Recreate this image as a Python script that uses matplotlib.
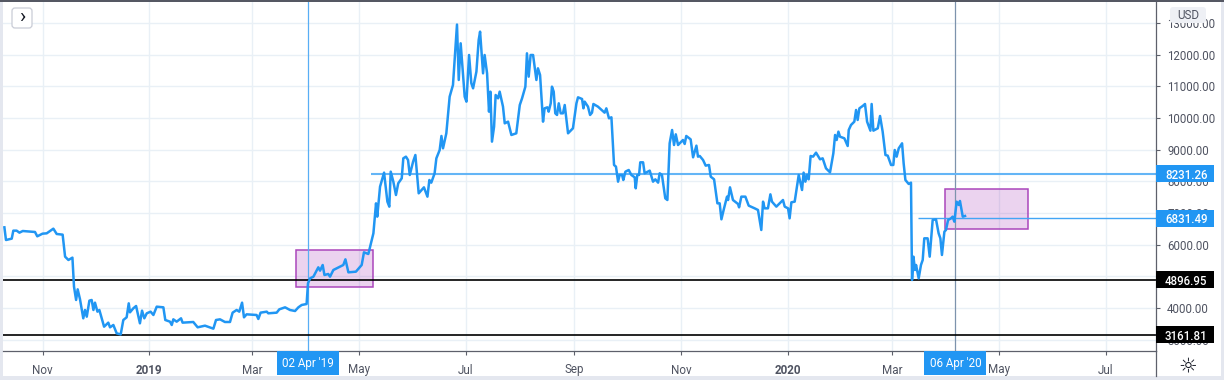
import datetime as dt
import numpy as np
import matplotlib
matplotlib.use('Agg')
import matplotlib.pyplot as plt
import matplotlib.dates as mdates
from matplotlib.patches import Rectangle, FancyBboxPatch
from matplotlib.transforms import blended_transform_factory, IdentityTransform

plt.rcParams['font.family'] = ['Roboto', 'DejaVu Sans']

START = dt.date(2018, 11, 1)

# days since START
days = [-21.8, -20.9, -17.6, -16.7, -14.8, -13.2, -11.3, -4.3, -3, 0, 2.4, 6.2, 8.1, 11.5, 12.9, 14.8, 17.1, 18, 19.2, 20.1,
        21.4, 23.3, 24.3, 25.3, 26.8, 28.1, 29.1, 30, 31.4, 32.5, 35.2, 37.6, 38.6, 40.5, 42.4, 44.7, 46.2, 48.1, 49.3, 50,
        51.9, 53.5, 55.7, 56.9, 58.2, 59.6, 61.8, 63.4, 65.3, 69.1, 70.2, 72.9, 73.9, 74.8, 76.7, 79.2, 80.1, 86.2, 88.7, 92.9,
        97.7, 99.2, 101.5, 104.3, 107.2, 108.7, 111, 112.5, 114.1, 115.2, 116.7, 122.4, 123.4, 124.7, 128.2, 129.1, 133.9, 135.4, 138.7, 141.5,
        144.4, 146.3, 148.2, 151, 151.8, 153, 154.9, 157.7, 158.7, 160.2, 161.2, 163.4, 164.4, 166.3, 172, 173.2, 174.9, 179.2, 182.5, 183.8,
        186.3, 189.2, 190.7, 191.4, 193, 195.3, 197.2, 198.3, 199.1, 200.6, 202.1, 203.4, 205.4, 206.3, 207.8,
        209, 210, 211.9, 213.2, 215.1, 218.1, 220.1, 221.2, 222.3, 224.2, 225.2, 227.1, 228.1, 229, 230.9, 232.8, 234.7, 237, 238, 239.1,
        241.4, 242.4, 243.9, 245.2, 246.2, 248.1, 249.4, 250.2, 251.9, 252.8, 254.2, 255.3, 256.1, 257, 258.2, 259.1, 260.5, 261.4, 263.3, 264.3,
        266.2, 268.1, 270.9, 272.9, 274.2, 276.1, 277, 278, 279.1, 280.5, 282.4, 283.3, 284.5, 286.2, 287.1, 288.7, 289.4, 290.6, 291.3, 292.3,
        293.2, 294.2, 295.2, 296.3, 297.6, 298.6, 300.5, 303.3, 305.3, 306.2, 308.5, 309.3, 310, 311.9, 313.1, 314.2, 315, 317.6, 321.4, 322.4,
        323.9, 325.3, 326.8, 327.9, 329.1, 330, 331.4, 332.1, 333.3, 335.2, 336.7, 338.6, 339.2, 340.1, 341.1, 341.8, 343.4, 344.3, 347.2, 349.1,
        350.4, 352, 352.9, 354.2, 356.1, 357.3, 358.6, 360, 361.1, 362.1, 363.4, 366.2, 367.2, 368.1, 370.6, 372, 373.9, 374.8, 375.8, 377.7,
        379.2, 381.1, 382.1, 384, 385.9, 387.2, 388.2, 389.7, 391.4, 392, 393.1, 394.8, 397.7, 398.3, 399.6, 401.9, 403.8, 407.2, 409.1, 411,
        412, 412.9, 414.8, 416.2, 417.1, 419.6, 423.4, 424.4, 426.3, 427.2, 428.2, 430.1, 432.4, 434.3, 435.2, 436.2, 437.1, 438.1, 439.2, 440.6,
        442.3, 444.6, 446.1, 448, 450.3, 452.2, 453.2, 454.1, 455.1, 456, 458.5, 460.4, 461, 462.3, 464.2, 465.2, 466.1, 467.1, 469, 470.3,
        471.5, 473.4, 474.1, 475.1, 477.6, 478.9, 480.4, 482, 483.3, 485.2, 486.5, 487.3, 488.4, 489.6, 491.5, 492.4, 493.4, 495.3, 496.6, 497.2,
        498, 498.9, 499.5, 501, 502.3, 503.3, 504.2, 506.1, 507.3, 509, 510.9, 512.4, 513.4, 514.3, 515.7, 516.6, 517.8, 519.5, 520.4, 521.4,
        522.7, 523.9, 524.6, 526.2, 527.5]

prices = [6547, 6147, 6190, 6442, 6442, 6379, 6431, 6400, 6263, 6347, 6358, 6505, 6337, 6316, 5621, 5516, 5590, 4674, 4253, 4589,
          4284, 3674, 3937, 3726, 4232, 4253, 3937, 4168, 3884, 3937, 3410, 3537, 3390, 3463, 3200, 3165, 3621, 3705, 4147, 3863,
          3989, 4063, 3516, 3916, 3674, 3832, 3884, 3779, 4042, 4021, 3621, 3568, 3463, 3642, 3568, 3674, 3537, 3558, 3390, 3442,
          3347, 3621, 3642, 3558, 3558, 3853, 3937, 3884, 4168, 3705, 3800, 3779, 3653, 3853, 3884, 3832, 3853, 3958, 4021, 3937,
          3905, 4021, 4095, 4126, 4779, 4937, 4989, 5284, 5179, 5358, 5042, 5074, 4989, 5200, 5358, 5537, 5126, 5147, 5358, 5758,
          5705, 6358, 7305, 6884, 7831, 8274, 7358, 7200, 8305, 7989, 7568, 7937, 8095, 8726, 8779,
          8673, 8200, 8621, 8831, 7621, 7810, 7516, 8042, 7958, 8253, 8726, 8989, 9432, 9042, 9516, 10673, 11042, 12950, 11200, 12358,
          10673, 10516, 11989, 11095, 10937, 11463, 12463, 12726, 11410, 11989, 11410, 10200, 10831, 9253, 9726, 10726, 10621, 10831, 10358, 9831,
          9884, 9463, 9516, 10410, 10621, 10989, 12042, 11305, 11989, 11989, 11200, 11568, 11358, 9884, 10305, 10337, 10200, 10463, 10989, 10831,
          10147, 10095, 10463, 10147, 10147, 10410, 9516, 9674, 10463, 10653, 10600, 10305, 10516, 10358, 10095, 10168, 10442, 10358, 10168, 10305,
          9989, 10021, 8516, 8463, 7989, 8200, 8200, 8042, 8305, 8358, 8200, 8126, 7779, 8200, 8200, 8600, 8600, 8253, 8337, 7989,
          8063, 7958, 8253, 8200, 7463, 7410, 9200, 9621, 9147, 9484, 9147, 9305, 9179, 9432, 9326, 8758, 9126, 8779, 8800, 8673,
          8495, 8516, 8147, 8063, 7305, 7305, 6800, 7147, 7516, 7410, 7810, 7410, 7284, 7179, 7516, 7516, 7232, 7147, 7095, 6463,
          7358, 7147, 7147, 7589, 7358, 7200, 7410, 7200, 7147, 6831, 7337, 7358, 8200, 7726, 8274, 7989, 8200, 8063, 8800, 8779,
          8905, 8695, 8726, 8410, 8284, 8884, 9463, 9305, 9568, 9410, 9358, 9116, 9621, 9779, 9884, 10253, 9937, 10305, 10379, 10442,
          9884, 9600, 10442, 9600, 9674, 10063, 9568, 8831, 8810, 8516, 8516, 8989, 8779, 9042, 9200, 8568, 8042, 7916, 7958, 4884,
          5621, 5200, 5358, 4937, 5358, 5516, 6200, 6200, 5621, 6779, 6800, 6358, 6200, 5674, 6410, 6463, 6779, 6831, 6884, 6726,
          7358, 7253, 7379, 6884, 6905]

y_ticks = [3000, 4000, 5000, 6000, 7000, 8000, 9000, 10000, 11000, 12000, 13000]
x_tick_dates = [dt.date(2018, 11, 1), dt.date(2019, 1, 1), dt.date(2019, 3, 1), dt.date(2019, 5, 1), dt.date(2019, 7, 1),
                dt.date(2019, 9, 1), dt.date(2019, 11, 1), dt.date(2020, 1, 1), dt.date(2020, 3, 1), dt.date(2020, 5, 1), dt.date(2020, 7, 1)]
x_tick_labels = ['Nov', '2019', 'Mar', 'May', 'Jul', 'Sep', 'Nov', '2020', 'Mar', 'May', 'Jul']

support_levels = [4896.95, 3161.81]
resist_level, resist_start = 8231.26, 187.8
last_level, last_start = 6831.49, 500.8
boxes = [(144.9, 189.2, 4653, 5842), (516.1, 563.3, 6484, 7747)]
cursor_dates = [dt.date(2019, 4, 2), dt.date(2020, 4, 6)]
cursor_labels = ["02 Apr '19", "06 Apr '20"]

BLUE = '#2196f3'
TXT = '#4f5361'
GRID = '#e9f0f6'
AX = '#5d606b'


def to_num(d):
    return mdates.date2num(START) + np.asarray(d, dtype=float)


W, H = 1224, 380
fig = plt.figure(figsize=(W / 100, H / 100), dpi=100, facecolor='#e4e7ef')
# white chart panel on the slightly grey page
fig.add_artist(Rectangle((3 / W, 1 - 376 / H), 1218 / W, 375 / H, transform=fig.transFigure, fc='white', ec='none', zorder=-5))
fig.add_artist(Rectangle((0, 1 - 1.5 / H), 1, 1.5 / H, transform=fig.transFigure, fc='#555863', ec='none'))

ax = fig.add_axes([3 / W, 1 - 351 / H, 1153 / W, 350 / H], facecolor='none')
ax.set_axisbelow(True)
ax.set_xlim(to_num(-22.6), to_num(636.7))
ax.set_ylim(2642, 13694)

ax.yaxis.tick_right()
ax.set_yticks(y_ticks)
ax.set_yticklabels([f'{v:.2f}' for v in y_ticks])
ax.set_xticks(mdates.date2num(x_tick_dates))
ax.set_xticklabels(x_tick_labels)
ax.tick_params(axis='y', length=3, width=0.8, color=AX, labelcolor=TXT, labelsize=8.3, pad=5)
ax.tick_params(axis='x', length=3, width=0.8, color=AX, labelcolor=TXT, labelsize=8.4, pad=6)
for lbl in ax.get_xticklabels():
    if lbl.get_text() in ('2019', '2020'):
        lbl.set_fontweight('bold')
ax.grid(True, color=GRID, lw=1.0)
for side in ('top', 'left'):
    ax.spines[side].set_visible(False)
for side in ('right', 'bottom'):
    ax.spines[side].set_color(AX)
    ax.spines[side].set_linewidth(0.9)
# price scale separator runs down to the page edge
ax.plot([1, 1], [0, -25 / 350], transform=ax.transAxes, color=AX, lw=0.9, clip_on=False)

for lo_d, hi_d, lo_p, hi_p in boxes:
    ax.add_patch(Rectangle((to_num(lo_d), lo_p), hi_d - lo_d, hi_p - lo_p, fc='#9c27b0', alpha=0.2, ec='none', zorder=1))
    ax.add_patch(Rectangle((to_num(lo_d), lo_p), hi_d - lo_d, hi_p - lo_p, fc='none', ec='#ab47bc', lw=1.1, zorder=1.1))

ax.axvline(mdates.date2num(cursor_dates[0]), color='#58aef5', lw=0.9, zorder=1.5)
ax.axvline(mdates.date2num(cursor_dates[1]), color='#7d93ad', lw=0.9, zorder=1.5)

for lev in support_levels:
    ax.axhline(lev, color='black', lw=1.2, zorder=2)
ax.hlines(resist_level, to_num(resist_start), ax.get_xlim()[1], color='#64b5f6', lw=1.5, zorder=2)
ax.hlines(last_level, to_num(last_start), ax.get_xlim()[1], color='#42a5f5', lw=1.0, zorder=2)

ax.plot(to_num(days), prices, color=BLUE, lw=1.8, solid_joinstyle='round', zorder=3)

# value badges on the price scale
trans_y = blended_transform_factory(ax.transAxes, ax.transData)
badge_h = 17 / 350 * (13694 - 2642)
for lev, bg in [(resist_level, BLUE), (last_level, BLUE), (support_levels[0], 'black'), (support_levels[1], 'black')]:
    ax.add_patch(Rectangle((1.0, lev - badge_h / 2), 58 / 1153, badge_h, transform=trans_y, fc=bg, ec='none', clip_on=False, zorder=8))
    ax.text(1 + 9 / 1153, lev, f'{lev:.2f}', transform=trans_y, color='white', fontsize=8.3, fontweight='medium',
            ha='left', va='center_baseline', zorder=9)

# date badges on the time scale
trans_x = blended_transform_factory(ax.transData, ax.transAxes)
for d, txt in zip(cursor_dates, cursor_labels):
    c = mdates.date2num(d)
    ax.add_patch(Rectangle((c - 17.7, -24 / 350), 35.4, 24 / 350, transform=trans_x, fc=BLUE, ec='none', clip_on=False, zorder=8))
    ax.text(c, -13 / 350, txt, transform=trans_x, color='white', fontsize=8.4, ha='center', va='center', zorder=9)

# USD pill, collapse button and settings icon
px = IdentityTransform()
fig.add_artist(FancyBboxPatch((1170, H - 23), 36, 16, boxstyle='round,pad=0,rounding_size=3', transform=px, fc='#eef0f5', ec='none'))
fig.text(1188 / W, 1 - 15.5 / H, 'USD', color=TXT, fontsize=8.4, ha='center', va='center')
fig.add_artist(FancyBboxPatch((12, H - 28), 20, 20, boxstyle='round,pad=0,rounding_size=3', transform=px, fc='white', ec='#c9ccd6', lw=0.9))
fig.text(22 / W, 1 - 17.5 / H, '\u203a', color='#131722', fontsize=15, ha='center', va='center')
fig.text(1188 / W, 1 - 366 / H, '\u263c', color='#131722', fontsize=15, ha='center', va='center', family=['DejaVu Sans'])

fig.savefig('out.png', dpi=100, facecolor=fig.get_facecolor())
